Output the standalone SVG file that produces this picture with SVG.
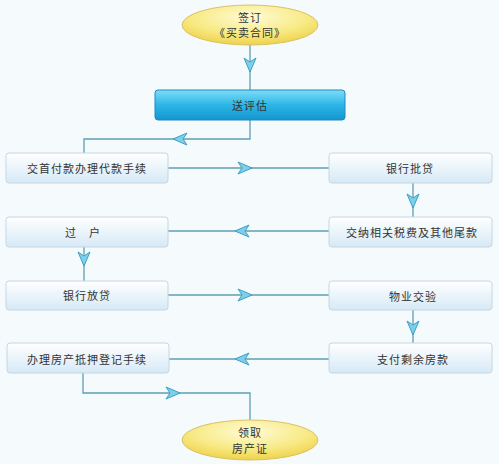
<svg xmlns="http://www.w3.org/2000/svg" width="499" height="464" viewBox="0 0 499 464">
<defs>
<linearGradient id="boxg" x1="0" y1="0" x2="0" y2="1">
<stop offset="0" stop-color="#ffffff"/>
<stop offset="1" stop-color="#d6e9f6"/>
</linearGradient>
<linearGradient id="darkg" x1="0" y1="0" x2="0" y2="1">
<stop offset="0" stop-color="#7fdcf8"/>
<stop offset="0.5" stop-color="#2cb6e6"/>
<stop offset="1" stop-color="#1595cf"/>
</linearGradient>
<radialGradient id="elg" cx="0.5" cy="0.3" r="0.7">
<stop offset="0" stop-color="#fffbd6"/>
<stop offset="0.6" stop-color="#f8ea86"/>
<stop offset="1" stop-color="#eed24a"/>
</radialGradient>
<marker id="arr" markerUnits="userSpaceOnUse" markerWidth="16" markerHeight="14" viewBox="0 0 16 14" refX="15" refY="7" orient="auto">
<path d="M15,7 L1,1 L5,7 L1,13 Z" fill="#7dd0ec" stroke="#3f9fc2" stroke-width="1"/>
</marker>
</defs>
<style>
.box{fill:url(#boxg);stroke:#c4d6e4;stroke-width:1}
.lbl{font-family:"Noto Sans CJK SC","Noto Sans",sans-serif;font-size:11px;fill:#333;text-anchor:middle;dominant-baseline:central;letter-spacing:1px}
.conn path{fill:none;stroke:#5e9fb4;stroke-width:1.3}
.el{fill:url(#elg);stroke:#d9c268;stroke-width:1}
</style>
<rect x="0" y="0" width="499" height="464" fill="#f5fafd"/>
<g class="conn" id="connectors">
<path d="M250,45 L250,72" marker-end="url(#arr)"/>
<path d="M250,72 L250,90"/>
<path d="M250,120 L250,139 L173,139" marker-end="url(#arr)"/>
<path d="M173,139 L84,139 L84,153"/>
<path d="M168,168 L252,168" marker-end="url(#arr)"/>
<path d="M252,168 L329,168"/>
<path d="M413,183 L413,208" marker-end="url(#arr)"/>
<path d="M413,208 L413,217"/>
<path d="M329,231 L235,231" marker-end="url(#arr)"/>
<path d="M235,231 L168,231"/>
<path d="M84,247 L84,266" marker-end="url(#arr)"/>
<path d="M84,266 L84,281"/>
<path d="M168,295 L252,295" marker-end="url(#arr)"/>
<path d="M252,295 L329,295"/>
<path d="M413,310 L413,335" marker-end="url(#arr)"/>
<path d="M413,335 L413,343"/>
<path d="M329,359 L235,359" marker-end="url(#arr)"/>
<path d="M235,359 L169,359"/>
<path d="M83,373 L83,393 L180,393" marker-end="url(#arr)"/>
<path d="M180,393 L250,393 L250,420"/>
</g>
<g id="n-sign">
<ellipse class="el" cx="250" cy="25" rx="68" ry="20"/>
<text class="lbl" x="250" y="17">签订</text>
<text class="lbl" x="250" y="32">《买卖合同》</text>
</g>
<g id="n-eval">
<rect x="155" y="90" width="190" height="30" rx="3" fill="url(#darkg)" stroke="#1b8cc0"/>
<text class="lbl" x="250" y="105">送评估</text>
</g>
<g id="n-pay">
<rect class="box" x="6" y="153" width="162" height="30" rx="3"/>
<text class="lbl" x="87" y="168">交首付款办理代款手续</text>
</g>
<g id="n-approve">
<rect class="box" x="329" y="153" width="163" height="30" rx="3"/>
<text class="lbl" x="410" y="168">银行批贷</text>
</g>
<g id="n-tax">
<rect class="box" x="329" y="217" width="163" height="30" rx="3"/>
<text class="lbl" x="412" y="232">交纳相关税费及其他尾款</text>
</g>
<g id="n-transfer">
<rect class="box" x="6" y="217" width="162" height="30" rx="3"/>
<text class="lbl" x="83" y="232">过　户</text>
</g>
<g id="n-loan">
<rect class="box" x="6" y="281" width="162" height="29" rx="3"/>
<text class="lbl" x="87" y="295">银行放贷</text>
</g>
<g id="n-inspect">
<rect class="box" x="329" y="281" width="163" height="29" rx="3"/>
<text class="lbl" x="413" y="296">物业交验</text>
</g>
<g id="n-rest">
<rect class="box" x="329" y="343" width="163" height="30" rx="3"/>
<text class="lbl" x="413" y="359">支付剩余房款</text>
</g>
<g id="n-mortgage">
<rect class="box" x="7" y="343" width="162" height="30" rx="3"/>
<text class="lbl" x="87" y="359">办理房产抵押登记手续</text>
</g>
<g id="n-cert">
<ellipse class="el" cx="250" cy="440" rx="68" ry="20"/>
<text class="lbl" x="250" y="432">领取</text>
<text class="lbl" x="250" y="448">房产证</text>
</g>
</svg>
